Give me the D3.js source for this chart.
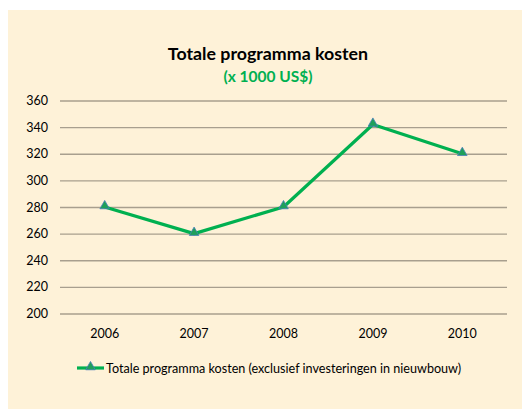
<!DOCTYPE html>
<html><head><meta charset="utf-8">
<script src="https://cdn.jsdelivr.net/npm/d3@7"></script>
<style>body{margin:0;background:#fff}svg{display:block}text{font-family:Lato,"Open Sans",sans-serif}</style>
</head><body>
<svg id="c" width="522" height="409"></svg>
<script>
const years = ["2006","2007","2008","2009","2010"];
const costs = [280, 260, 280, 342, 320];
const yTicks = [200,220,240,260,280,300,320,340,360];
const seriesName = "Totale programma kosten (exclusief investeringen in nieuwbouw)";
const title = "Totale programma kosten";
const subtitle = "(x 1000 US$)";

const svg = d3.select("#c");
svg.append("rect").attr("x",8).attr("y",10).attr("width",514).attr("height",399).attr("fill","#FEF2D8");

const x = d3.scaleBand().domain(years).range([60,507]);
const y = d3.scaleLinear().domain([200,360]).range([313.5,100.5]);

svg.append("text").attr("x",268).attr("y",59.5).attr("text-anchor","middle")
  .attr("font-size",17.8).attr("font-weight","bold").attr("fill","#000").text(title);
svg.append("text").attr("x",268).attr("y",81.5).attr("text-anchor","middle")
  .attr("font-size",15.5).attr("font-weight","bold").attr("fill","#00B050").text(subtitle);

const ya = svg.append("g").attr("transform","translate(60,0)")
  .call(d3.axisLeft(y).tickValues(yTicks).tickSize(-447).tickPadding(12).tickFormat(d3.format("d")));
ya.select(".domain").remove();
ya.selectAll(".tick line").attr("stroke","#A89F8E").attr("stroke-width",1.3);
ya.selectAll(".tick text").attr("font-size",12.5).attr("fill","#000");

const xa = svg.append("g").attr("transform","translate(0,313.5)")
  .call(d3.axisBottom(x).tickSize(0).tickPadding(16));
xa.select(".domain").remove();
xa.selectAll(".tick text").attr("font-size",12.5).attr("fill","#000");

const pts = years.map((yr,i)=>[x(yr)+x.bandwidth()/2, y(costs[i])]);
svg.append("path").attr("d", d3.line()(pts)).attr("fill","none")
  .attr("stroke","#00B050").attr("stroke-width",3.2).attr("stroke-linejoin","round");
const tri = d3.symbol().type(d3.symbolTriangle).size(40);
svg.selectAll(".m").data(pts).join("path").attr("class","m")
  .attr("transform",d=>`translate(${d[0]},${d[1]-1})`).attr("d",tri())
  .attr("fill","#1FA05A").attr("stroke","#4A7EBB").attr("stroke-width",0.8);

svg.append("line").attr("x1",77).attr("x2",104).attr("y1",368).attr("y2",368)
  .attr("stroke","#00B050").attr("stroke-width",3.2);
svg.append("path").attr("transform","translate(90.5,367)").attr("d",tri())
  .attr("fill","#1FA05A").attr("stroke","#4A7EBB").attr("stroke-width",0.8);
svg.append("text").attr("x",106).attr("y",372.5).attr("font-size",12.6).attr("fill","#000").text(seriesName);
</script>
</body></html>
